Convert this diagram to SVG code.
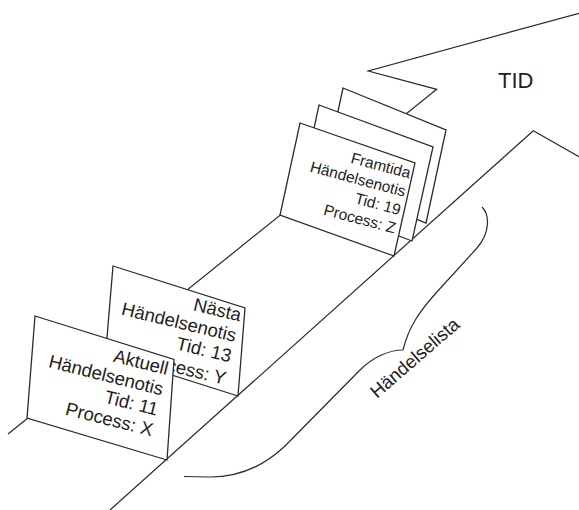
<svg xmlns="http://www.w3.org/2000/svg" width="579" height="510" viewBox="0 0 579 510">
<style>
.ln{fill:none;stroke:#2a2a2a;stroke-width:1.2;stroke-linejoin:miter}
.card{fill:#fff;stroke:#2a2a2a;stroke-width:1.3;stroke-linejoin:miter}
.t{font-family:"Liberation Sans",Arial,sans-serif;fill:#1e1e1e}
.big{font-size:18.5px}
.sm{font-size:15.5px}
</style>
<rect width="579" height="510" fill="#fff"/>
<g id="connectors">
<polyline class="ln" points="8,434 436.7,89.3 368.3,71 579,13.3"/>
<polyline class="ln" points="110,510 533.3,130.7 579,156.7"/>
</g>
<g id="handelselista">
<path class="ln" stroke-width="1.4" d="M482 207 C490 215 490 233 477 248 L436 293 C420 311 409 326 403 350 C388 350 372 358 360 370 L285 446 C265 465 240 477 210 477 L184 476.5"/>
<text class="t big" font-size="18" transform="translate(377,399) rotate(-41)">Händelselista</text>
</g>
<g id="tid">
<text class="t" x="498" y="88" font-size="22">TID</text>
</g>
<g id="framtida-back2">
<polygon class="card" points="343,88 446,130 426,223 323,181"/>
</g>
<g id="framtida-back1">
<polygon class="card" points="319,105 433,147 412,241 299,198"/>
</g>
<g id="framtida">
<polygon class="card" points="300,123 415,163 394,256 280,215"/>
<text class="t sm" text-anchor="end" transform="translate(409,178.5) rotate(15)"><tspan x="0" y="0">Framtida</tspan><tspan x="0" y="19">Händelsenotis</tspan><tspan x="0" y="38">Tid: 19</tspan><tspan x="0" y="57">Process: Z</tspan></text>
</g>
<g id="nasta">
<polygon class="card" points="113,266 245,308 238,396 105.6,354"/>
<text class="t big" text-anchor="end" transform="translate(239.5,321.5) rotate(13.5)"><tspan x="0" y="0">Nästa</tspan><tspan x="0" y="21">Händelsenotis</tspan><tspan x="0" y="42">Tid: 13</tspan><tspan x="0" y="65">Process: Y</tspan></text>
</g>
<g id="aktuell">
<polygon class="card" points="35,316 174,359.5 167,460 27,418"/>
<text class="t big" text-anchor="end" transform="translate(166.5,375) rotate(14)"><tspan x="0" y="0">Aktuell</tspan><tspan x="0" y="21">Händelsenotis</tspan><tspan x="0" y="42">Tid: 11</tspan><tspan x="0" y="63">Process: X</tspan></text>
</g>
</svg>
